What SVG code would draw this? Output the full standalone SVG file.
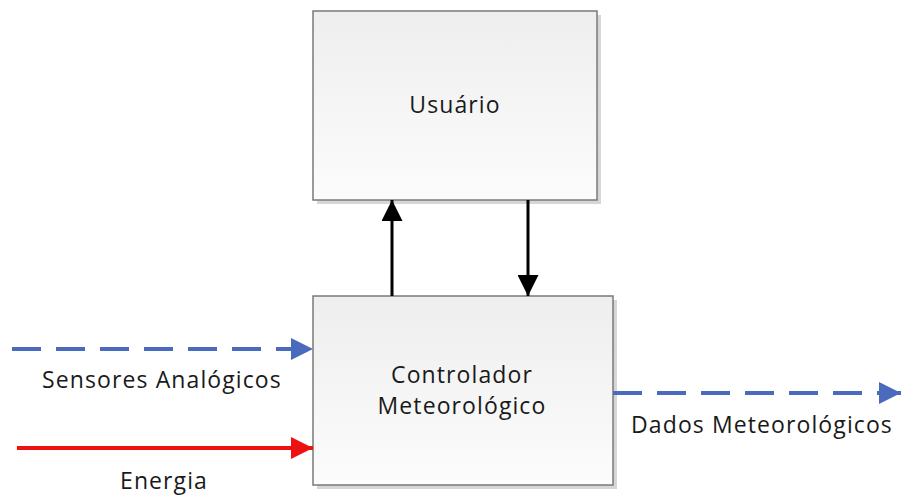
<svg xmlns="http://www.w3.org/2000/svg" width="905" height="496" viewBox="0 0 905 496">
<defs>
<linearGradient id="g" x1="0" y1="0" x2="0" y2="1"><stop offset="0" stop-color="#eeeeee"/><stop offset="1" stop-color="#fcfcfc"/></linearGradient>
<marker id="ab" viewBox="0 0 10 10" refX="10" refY="5" markerWidth="6.5" markerHeight="5.5" markerUnits="strokeWidth" orient="auto"><path d="M0,0L10,5L0,10z" fill="#4a6bbd"/></marker>
<marker id="ar" viewBox="0 0 10 10" refX="10" refY="5" markerWidth="6.5" markerHeight="5.5" markerUnits="strokeWidth" orient="auto"><path d="M0,0L10,5L0,10z" fill="#ee1111"/></marker>
<marker id="ak" viewBox="0 0 10 10" refX="10" refY="5" markerWidth="7.5" markerHeight="7" markerUnits="strokeWidth" orient="auto"><path d="M0,0L10,5L0,10z" fill="#000"/></marker>
</defs>
<style>
.box{fill:url(#g);stroke:#7a7a7a;stroke-width:1.5}
.sh{fill:#d6d6d6}
text{font-family:"Open Sans","Liberation Sans",sans-serif;font-size:23px;letter-spacing:1.1px;fill:#1a1a1a;text-anchor:middle}
.blue{stroke:#4a6bbd;stroke-width:4;fill:none;stroke-dasharray:29 15}
.red{stroke:#ee1111;stroke-width:4;fill:none}
.blk{stroke:#000;stroke-width:3;fill:none}
</style>
<g id="usuario">
<rect class="sh" x="317" y="15" width="284" height="189"/>
<rect class="box" x="313" y="11" width="284" height="189"/>
<text x="455" y="113">Usuário</text>
</g>
<g id="controlador">
<rect class="sh" x="317" y="300" width="300" height="189"/>
<rect class="box" x="313" y="296" width="300" height="189"/>
<text x="462" y="383">Controlador</text>
<text x="462" y="414">Meteorológico</text>
</g>
<g id="connectors">
<line class="blue" x1="12" y1="349" x2="313" y2="349" marker-end="url(#ab)"/>
<line class="red" x1="17" y1="448" x2="313" y2="448" marker-end="url(#ar)"/>
<line class="blue" x1="613" y1="393" x2="901" y2="393" marker-end="url(#ab)"/>
<line class="blk" x1="392" y1="296" x2="392" y2="200" marker-end="url(#ak)"/>
<line class="blk" x1="528" y1="200" x2="528" y2="296" marker-end="url(#ak)"/>
</g>
<g id="labels">
<text x="162" y="388">Sensores Analógicos</text>
<text x="164" y="489">Energia</text>
<text x="762" y="433">Dados Meteorológicos</text>
</g>
</svg>
